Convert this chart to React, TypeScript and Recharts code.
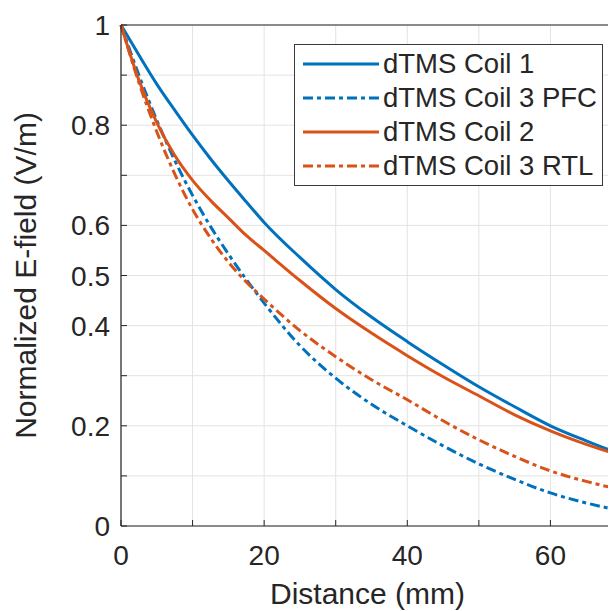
import { CartesianGrid, Legend, Line, LineChart, ReferenceLine, XAxis, YAxis } from "recharts";

const distance = [0, 2.5, 5, 7.5, 10, 12.5, 15, 17.5, 20, 25, 30, 35, 40, 45, 50, 55, 60, 65, 70];
const coil1 = [1.0, 0.94, 0.882, 0.83, 0.78, 0.733, 0.689, 0.647, 0.606, 0.536, 0.472, 0.417, 0.368, 0.322, 0.278, 0.238, 0.2, 0.17, 0.142];
const coil3Pfc = [1.0, 0.9, 0.81, 0.73, 0.66, 0.598, 0.543, 0.492, 0.445, 0.36, 0.295, 0.243, 0.2, 0.16, 0.124, 0.093, 0.066, 0.046, 0.03];
const coil2 = [1.0, 0.89, 0.805, 0.74, 0.69, 0.65, 0.615, 0.58, 0.55, 0.49, 0.434, 0.385, 0.34, 0.298, 0.26, 0.222, 0.19, 0.163, 0.14];
const coil3Rtl = [1.0, 0.885, 0.787, 0.703, 0.632, 0.575, 0.527, 0.487, 0.453, 0.39, 0.338, 0.292, 0.252, 0.21, 0.172, 0.139, 0.11, 0.089, 0.072];

const xTicks = [0, 10, 20, 30, 40, 50, 60, 70];
const xLabels = [0, 20, 40, 60];
const yTicks = [0, 0.1, 0.2, 0.3, 0.4, 0.5, 0.6, 0.7, 0.8, 0.9, 1];
const yLabels = [0, 0.2, 0.4, 0.5, 0.6, 0.8, 1];

const BLUE = "#0072BD";
const ORANGE = "#D95319";
const DASH = "10 4 4 4";
const AXIS = "#262626";
const FONT = "'Liberation Sans', Arial, sans-serif";

const series = [
  { key: "coil1", name: "dTMS Coil 1", color: BLUE, dash: undefined },
  { key: "coil3Pfc", name: "dTMS Coil 3 PFC", color: BLUE, dash: DASH },
  { key: "coil2", name: "dTMS Coil 2", color: ORANGE, dash: undefined },
  { key: "coil3Rtl", name: "dTMS Coil 3 RTL", color: ORANGE, dash: DASH },
];

const data = distance.map((d, i) => ({
  d,
  coil1: coil1[i],
  coil3Pfc: coil3Pfc[i],
  coil2: coil2[i],
  coil3Rtl: coil3Rtl[i],
}));

function XTick({ x, y, payload }: any) {
  const v = payload.value;
  return (
    <g>
      <line x1={x} x2={x} y1={y} y2={y - 6} stroke={AXIS} strokeWidth={1} />
      {xLabels.includes(v) && (
        <text x={x} y={y + 39} textAnchor="middle" fontSize={28} fontFamily={FONT} fill={AXIS}>
          {v}
        </text>
      )}
    </g>
  );
}

function YTick({ x, y, payload }: any) {
  const v = payload.value;
  return (
    <g>
      <line x1={x} x2={x + 6} y1={y} y2={y} stroke={AXIS} strokeWidth={1} />
      {yLabels.includes(v) && (
        <text x={x - 11} y={y} dy="0.36em" textAnchor="end" fontSize={28} fontFamily={FONT} fill={AXIS}>
          {v}
        </text>
      )}
    </g>
  );
}

function LegendBox() {
  return (
    <div
      style={{
        width: 307,
        border: "1px solid #3a3a3a",
        background: "#fff",
        padding: "2px 0",
        fontFamily: FONT,
        fontSize: 27.5,
        color: AXIS,
      }}
    >
      {series.map((s) => (
        <div key={s.key} style={{ height: 34, display: "flex", alignItems: "center", whiteSpace: "nowrap" }}>
          <svg width={88} height={34} style={{ flex: "none" }}>
            <line x1={8} x2={84} y1={17} y2={17} stroke={s.color} strokeWidth={3} strokeDasharray={s.dash} />
          </svg>
          <span>{s.name}</span>
        </div>
      ))}
    </div>
  );
}

export default function App() {
  return (
    <div style={{ width: 608, height: 603, overflow: "hidden", position: "relative" }}>
      <LineChart width={630} height={603} data={data} margin={{ top: 17, right: 16, bottom: 0, left: 0 }}>
        <CartesianGrid stroke="#e3e3e3" strokeWidth={1} />
        <XAxis
          dataKey="d"
          type="number"
          domain={[0, 70]}
          ticks={xTicks}
          interval={0}
          height={85}
          tickSize={0}
          tickMargin={0}
          tick={<XTick />}
          axisLine={{ stroke: AXIS, strokeWidth: 1.2 }}
          label={{
            content: ({ viewBox }: any) => (
              <text
                x={viewBox.x + viewBox.width / 2 - 4}
                y={viewBox.y + 78}
                textAnchor="middle"
                fontSize={30}
                fontFamily={FONT}
                fill={AXIS}
              >
                Distance (mm)
              </text>
            ),
          }}
        />
        <YAxis
          type="number"
          domain={[0, 1]}
          ticks={yTicks}
          interval={0}
          width={113}
          tickSize={0}
          tickMargin={0}
          tick={<YTick />}
          axisLine={{ stroke: AXIS, strokeWidth: 1.2 }}
          label={{
            content: ({ viewBox }: any) => {
              const cx = viewBox.x + 28;
              const cy = viewBox.y + viewBox.height / 2;
              return (
                <text
                  x={cx}
                  y={cy}
                  transform={`rotate(-90, ${cx}, ${cy})`}
                  textAnchor="middle"
                  fontSize={30}
                  fontFamily={FONT}
                  fill={AXIS}
                >
                  Normalized E-field (V/m)
                </text>
              );
            },
          }}
        />
        <ReferenceLine y={1} stroke={AXIS} strokeWidth={1.2} />
        <ReferenceLine x={70} stroke={AXIS} strokeWidth={1.2} />
        {series.map((s) => (
          <Line
            key={s.key}
            dataKey={s.key}
            name={s.name}
            type="monotone"
            stroke={s.color}
            strokeWidth={3}
            strokeDasharray={s.dash}
            dot={false}
            activeDot={false}
            isAnimationActive={false}
          />
        ))}
        <Legend
          layout="horizontal"
          verticalAlign="middle"
          align="center"
          content={<LegendBox />}
          wrapperStyle={{ left: 286, top: 36, width: 309, height: 140 }}
        />
      </LineChart>
    </div>
  );
}
